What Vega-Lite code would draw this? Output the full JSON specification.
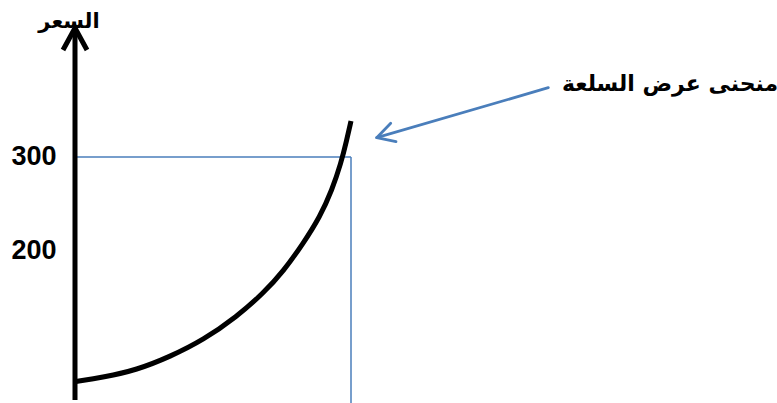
{
  "$schema": "https://vega.github.io/schema/vega-lite/v6.json",
  "width": 702,
  "height": 403,
  "autosize": {"type": "none"},
  "padding": {"left": 75, "top": 0, "right": 0, "bottom": 0},
  "background": "white",
  "config": {"view": {"stroke": null}},
  "datasets": {
    "guides": [
      {"x": 0, "x2": 276, "y": 300, "y2": 300},
      {"x": 276, "x2": 276, "y": 300, "y2": 35.5}
    ],
    "axisline": [
      {"x": 0, "x2": 0, "y": 38.7, "y2": 437}
    ],
    "axishead": [
      {"x": -12, "y": 415.1, "o": 1},
      {"x": 0, "y": 438.7, "o": 2},
      {"x": 12, "y": 415.1, "o": 3}
    ],
    "curve": [
      {"x": 1, "y": 58.6},
      {"x": 28.3, "y": 63.1},
      {"x": 61.7, "y": 71},
      {"x": 95, "y": 85.3},
      {"x": 128.3, "y": 103.2},
      {"x": 161.7, "y": 128.3},
      {"x": 188.3, "y": 153.4},
      {"x": 208.3, "y": 177},
      {"x": 228.3, "y": 207.2},
      {"x": 245, "y": 235.8},
      {"x": 257, "y": 264.5},
      {"x": 266, "y": 293.5},
      {"x": 271.5, "y": 317.2},
      {"x": 276, "y": 338.7}
    ],
    "pointer": [
      {"g": "shaft", "x": 473.3, "y": 374.5, "o": 1},
      {"g": "shaft", "x": 301.7, "y": 320.8, "o": 2},
      {"g": "head", "x": 315.7, "y": 336.2, "o": 1},
      {"g": "head", "x": 301.7, "y": 320.8, "o": 2},
      {"g": "head", "x": 321, "y": 316.5, "o": 3}
    ],
    "labels": [
      {"x": -6, "y": 445.2, "label": "السعر", "s": 21},
      {"x": 595, "y": 378, "label": "منحنى عرض السلعة", "s": 22}
    ]
  },
  "layer": [
    {
      "data": {"name": "guides"},
      "mark": {"type": "rule", "stroke": "#4a7ebb", "strokeWidth": 1.5},
      "encoding": {
        "x": {"field": "x", "type": "quantitative", "scale": {"domain": [0, 702], "nice": false, "zero": false}, "axis": null},
        "x2": {"field": "x2"},
        "y": {"field": "y", "type": "quantitative", "scale": {"domain": [35.5, 468.8], "nice": false, "zero": false},
          "axis": {"values": [200, 300], "domain": false, "ticks": false, "grid": false, "title": null, "labelFontSize": 27, "labelFontWeight": "bold", "labelFont": "Liberation Sans", "labelColor": "black", "labelPadding": 19}},
        "y2": {"field": "y2"}
      }
    },
    {
      "data": {"name": "axisline"},
      "mark": {"type": "rule", "stroke": "black", "strokeWidth": 5},
      "encoding": {
        "x": {"field": "x", "type": "quantitative"},
        "x2": {"field": "x2"},
        "y": {"field": "y", "type": "quantitative"},
        "y2": {"field": "y2"}
      }
    },
    {
      "data": {"name": "axishead"},
      "mark": {"type": "line", "stroke": "black", "strokeWidth": 5, "strokeJoin": "miter", "strokeCap": "butt"},
      "encoding": {
        "x": {"field": "x", "type": "quantitative"},
        "y": {"field": "y", "type": "quantitative"},
        "order": {"field": "o"}
      }
    },
    {
      "data": {"name": "curve"},
      "mark": {"type": "line", "stroke": "black", "strokeWidth": 5, "interpolate": "basis"},
      "encoding": {
        "x": {"field": "x", "type": "quantitative"},
        "y": {"field": "y", "type": "quantitative"}
      }
    },
    {
      "data": {"name": "pointer"},
      "mark": {"type": "line", "stroke": "#4a7ebb", "strokeWidth": 2.8, "strokeCap": "round", "strokeJoin": "round"},
      "encoding": {
        "x": {"field": "x", "type": "quantitative"},
        "y": {"field": "y", "type": "quantitative"},
        "detail": {"field": "g"},
        "order": {"field": "o"}
      }
    },
    {
      "data": {"name": "labels"},
      "mark": {"type": "text", "font": "DejaVu Sans", "fontWeight": "bold", "color": "black", "baseline": "middle", "align": "center"},
      "encoding": {
        "x": {"field": "x", "type": "quantitative"},
        "y": {"field": "y", "type": "quantitative"},
        "text": {"field": "label"},
        "size": {"field": "s", "type": "quantitative", "scale": null}
      }
    }
  ]
}
